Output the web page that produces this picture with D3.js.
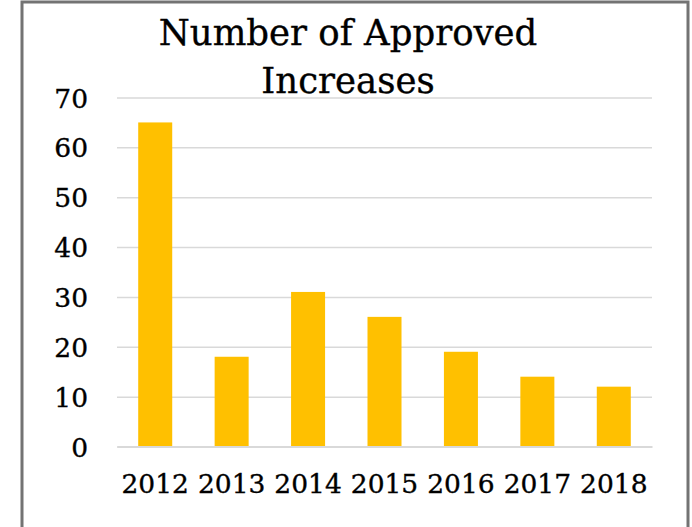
<!DOCTYPE html>
<html>
<head>
<meta charset="utf-8">
<script src="https://cdn.jsdelivr.net/npm/d3@7"></script>
<style>
    body { margin: 0; background: #fff; }
    svg { display: block; }
    text { font-family: "DejaVu Serif", serif; fill: #000; stroke: #000; stroke-width: 0.35px; }
</style>
</head>
<body>
<svg id="chart" width="692" height="527"></svg>
<script>
// Chart data

const years = ['2012', '2013', '2014', '2015', '2016', '2017', '2018'];
const approved = [65, 18, 31, 26, 19, 14, 12];
const yTicks = [0, 10, 20, 30, 40, 50, 60, 70];
const titleLines = ['Number of Approved', 'Increases'];


const width = 692;
const height = 527;
const plot = { left: 117, right: 652, top: 97.5, bottom: 446.5 };

const bar_color = '#ffc000';
const grid_color = '#d9d9d9';
const frame_color = '#737373';

const svg = d3.select('#chart');

// Frame round the chart area

svg.append('rect')
    .attr('x', 22)
    .attr('y', 2)
    .attr('width', 666)
    .attr('height', height + 10)
    .attr('fill', '#fff')
    .attr('stroke', frame_color)
    .attr('stroke-width', 3);

const x = d3.scaleBand()
    .domain(years)
    .range([plot.left, plot.right])
    .paddingInner(0.555)
    .paddingOuter(0.2775);

const y = d3.scaleLinear()
    .domain([0, 70])
    .range([plot.bottom, plot.top]);

// Gridlines and y labels

const yAxis = d3.axisLeft(y)
    .tickValues(yTicks)
    .tickSize(-(plot.right - plot.left))
    .tickPadding(29)
    .tickFormat(d3.format('d'));

const gy = svg.append('g')
    .attr('transform', `translate(${plot.left},0)`)
    .call(yAxis);

gy.select('.domain').remove();
gy.selectAll('.tick line')
    .attr('stroke', grid_color)
    .attr('stroke-width', 1.5);
gy.selectAll('.tick text')
    .attr('font-size', 26.5)
    .attr('dy', '0.36em');

// Bars

svg.append('g')
    .selectAll('rect')
    .data(years)
    .join('rect')
    .attr('x', d => x(d))
    .attr('width', x.bandwidth())
    .attr('y', (d, i) => y(approved[i]))
    .attr('height', (d, i) => y(0) - y(approved[i]))
    .attr('fill', bar_color);

// Category axis

const xAxis = d3.axisBottom(x)
    .tickSize(0)
    .tickPadding(28);

const gx = svg.append('g')
    .attr('transform', `translate(0,${plot.bottom})`)
    .call(xAxis);

gx.select('.domain')
    .attr('stroke', grid_color)
    .attr('stroke-width', 2);
gx.selectAll('.tick text')
    .attr('font-size', 26.5)
    .attr('dy', '0.71em');

// Title

svg.append('text')
    .attr('x', 348)
    .attr('text-anchor', 'middle')
    .attr('font-size', 35.5)
    .selectAll('tspan')
    .data(titleLines)
    .join('tspan')
    .attr('x', 348)
    .attr('y', (d, i) => 45 + i * 48)
    .text(d => d);
</script>
</body>
</html>
